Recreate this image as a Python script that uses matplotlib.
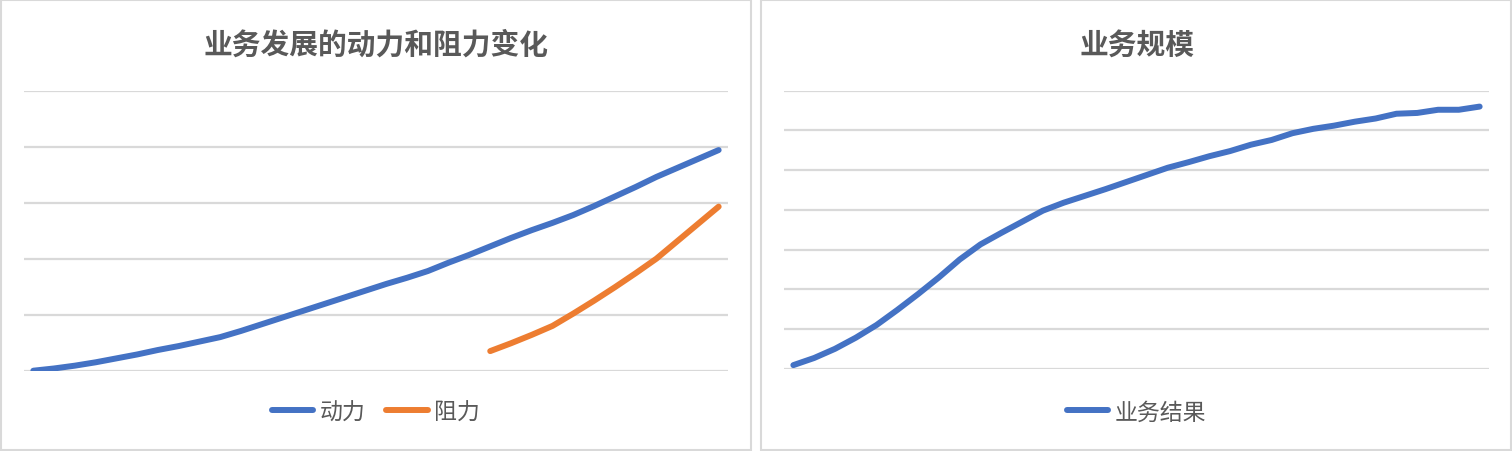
import matplotlib
matplotlib.use("Agg")
import matplotlib.pyplot as plt
from matplotlib.patches import Rectangle
import numpy as np

plt.rcParams['font.family'] = ['Noto Sans CJK SC', 'DejaVu Sans']

# ---- data ----
periods = list(range(34))
driving_force = [0.00, 0.04, 0.09, 0.15, 0.22, 0.29, 0.37, 0.44, 0.52, 0.60,
                 0.71, 0.83, 0.95, 1.07, 1.19, 1.31, 1.43, 1.55, 1.66, 1.78,
                 1.93, 2.07, 2.22, 2.37, 2.51, 2.64, 2.78, 2.94, 3.11, 3.28,
                 3.46, 3.62, 3.78, 3.94]
resistance_start = 22
resistance = [0.35, 0.49, 0.64, 0.80, 1.02, 1.25, 1.49, 1.74, 2.00, 2.31,
              2.62, 2.93]
business_result = [0.09, 0.27, 0.50, 0.78, 1.10, 1.48, 1.88, 2.30, 2.75, 3.13,
                   3.42, 3.70, 3.98, 4.18, 4.35, 4.52, 4.70, 4.88, 5.06, 5.20,
                   5.35, 5.48, 5.64, 5.76, 5.93, 6.04, 6.12, 6.22, 6.30, 6.42,
                   6.44, 6.52, 6.52, 6.60]

title_left = "业务发展的动力和阻力变化"
title_right = "业务规模"
label_drive = "动力"
label_resist = "阻力"
label_result = "业务结果"

BLUE = "#4472C4"
ORANGE = "#ED7D31"
GRID = "#D9D9D9"
TEXT = "#595959"

W, H = 1512, 452
fig = plt.figure(figsize=(W / 100, H / 100), dpi=100)

# panel borders
for x0, x1 in [(1, 751), (761, 1511)]:
    fig.patches.append(Rectangle((x0 / W, 1 / H), (x1 - x0) / W, (H - 2) / H,
                                 transform=fig.transFigure, fill=False,
                                 edgecolor=GRID, linewidth=1.5))

def style(ax, ymax):
    ax.set_xlim(-0.45, len(periods) - 0.55)
    ax.set_ylim(0, ymax)
    ax.set_yticks(np.arange(0, ymax + 1, 1))
    ax.yaxis.grid(True, color=GRID, linewidth=1.6)
    ax.set_axisbelow(True)
    ax.set_xticks([])
    ax.tick_params(left=False, labelleft=False)
    for s in ax.spines.values():
        s.set_visible(False)

# left
axL = fig.add_axes([24 / W, (H - 371.7) / H, 704 / W, 280 / H])
style(axL, 5)
axL.plot(periods, driving_force, color=BLUE, lw=4.3, solid_capstyle='round',
         solid_joinstyle='round', label=label_drive)
axL.plot(periods[resistance_start:], resistance, color=ORANGE, lw=4.3,
         solid_capstyle='round', solid_joinstyle='round', label=label_resist)
fig.text(376 / W, 1 - 45 / H, title_left, ha='center', va='center',
         fontsize=20.7, fontweight='bold', color=TEXT)
axL.legend(loc='center', bbox_to_anchor=(0.5, -0.1475), ncol=2,
           frameon=False, fontsize=16.5, handlelength=1.8,
           handletextpad=0.3, columnspacing=0.9, labelcolor=TEXT)

# right
axR = fig.add_axes([784 / W, (H - 369.7) / H, 705 / W, 278 / H])
style(axR, 7)
axR.plot(periods, business_result, color=BLUE, lw=4.3, solid_capstyle='round',
         solid_joinstyle='round', label=label_result)
fig.text(1137 / W, 1 - 45 / H, title_right, ha='center', va='center',
         fontsize=20.7, fontweight='bold', color=TEXT)
axR.legend(loc='center', bbox_to_anchor=(0.5, -0.155), ncol=1,
           frameon=False, fontsize=16.5, handlelength=1.8,
           handletextpad=0.3, labelcolor=TEXT)

fig.savefig("out.png", dpi=100)
